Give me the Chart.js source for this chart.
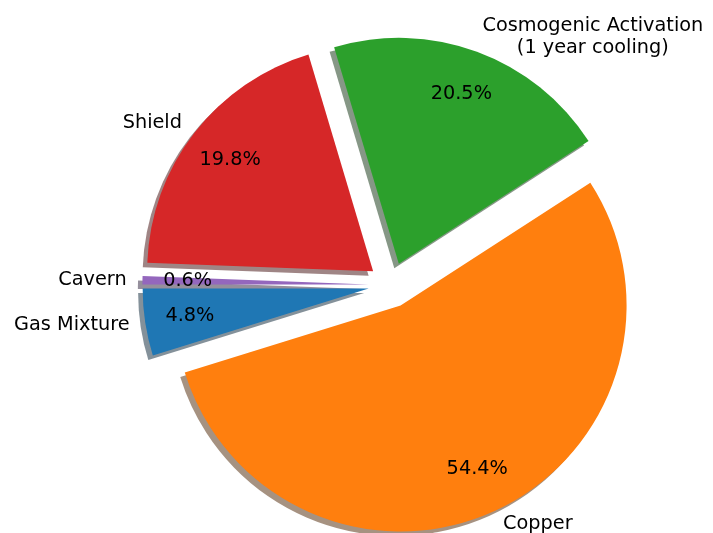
<!DOCTYPE html>
<html>
<head>
<meta charset="utf-8">
<script src="https://cdn.jsdelivr.net/npm/chart.js@4"></script>
<style>
  body { margin: 0; background: #fff; }
</style>
</head>
<body>
<canvas id="pieChart" width="713" height="533"></canvas>
<script>
// clockwise from the left, so the order matches the matplotlib pie
const labels = ['Cavern', 'Shield', 'Cosmogenic Activation\n(1 year cooling)', 'Copper', 'Gas Mixture'];
const shares = [0.6, 19.8, 20.5, 54.4, 4.8];

const colors = ['#9467bd', '#d62728', '#2ca02c', '#ff7f0e', '#1f77b4'];
const EXPLODE = 0.1;      // fraction of radius
const LABEL_DIST = 1.07;
const PCT_DIST = 0.8;
const FONT_PX = 19.3;
const FONT = FONT_PX + 'px "DejaVu Sans"';

function shadowColor(hex) {
    const n = parseInt(hex.slice(1), 16);
    const r = (n >> 16) & 255, g = (n >> 8) & 255, b = n & 255;
    return `rgba(${Math.round(r * 0.3)},${Math.round(g * 0.3)},${Math.round(b * 0.3)},0.5)`;
}

function geom(arc) {
    const p = arc.getProps(['x', 'y', 'startAngle', 'endAngle', 'outerRadius'], true);
    const mid = (p.startAngle + p.endAngle) / 2;
    const off = EXPLODE * p.outerRadius;
    return {
        ...p, mid,
        cx: p.x + Math.cos(mid) * off,
        cy: p.y + Math.sin(mid) * off
    };
}

// exploded wedges with a flat shadow, drawn from the arc elements
const explodedPie = {
    id: 'explodedPie',
    beforeDatasetDraw(chart, args) {
        const ctx = chart.ctx;
        const arcs = args.meta.data;
        const wedge = (arc, dx, dy) => {
            const g = geom(arc);
            ctx.beginPath();
            ctx.moveTo(g.cx + dx, g.cy + dy);
            ctx.arc(g.cx + dx, g.cy + dy, g.outerRadius, g.startAngle, g.endAngle);
            ctx.closePath();
            ctx.fill();
        };
        ctx.save();
        arcs.forEach((arc, i) => {
            const s = 0.02 * arc.outerRadius;
            ctx.fillStyle = shadowColor(colors[i]);
            wedge(arc, -s, s);
        });
        arcs.forEach((arc, i) => {
            ctx.fillStyle = colors[i];
            wedge(arc, 0, 0);
        });
        ctx.restore();
        return false;
    },
    afterDatasetsDraw(chart) {
        const ctx = chart.ctx;
        const arcs = chart.getDatasetMeta(0).data;
        ctx.save();
        ctx.font = FONT;
        ctx.fillStyle = '#000';
        ctx.textBaseline = 'middle';
        arcs.forEach((arc, i) => {
            const g = geom(arc);
            const cos = Math.cos(g.mid), sin = Math.sin(g.mid);

            // outer category label
            const lx = g.cx + cos * LABEL_DIST * g.outerRadius;
            const ly = g.cy + sin * LABEL_DIST * g.outerRadius;
            const lines = labels[i].split('\n');
            const lh = FONT_PX * 1.16;
            const w = Math.max(...lines.map(l => ctx.measureText(l).width));
            const blockMid = cos >= 0 ? lx + w / 2 : lx - w / 2;
            ctx.textAlign = 'center';
            lines.forEach((l, k) => {
                ctx.fillText(l, blockMid, ly + (k - (lines.length - 1) / 2) * lh);
            });

            // percentage
            const px = g.cx + cos * PCT_DIST * g.outerRadius;
            const py = g.cy + sin * PCT_DIST * g.outerRadius;
            ctx.fillText(shares[i].toFixed(1) + '%', px, py);
        });
        ctx.restore();
    }
};

const ctx = document.getElementById('pieChart').getContext('2d');
new Chart(ctx, {
    type: 'pie',
    data: {
        labels: labels,
        datasets: [{
            data: shares,
            backgroundColor: colors,
            borderWidth: 0,
            radius: 226
        }]
    },
    options: {
        responsive: false,
        animation: false,
        events: [],
        rotation: -90,
        layout: { padding: { left: 69, top: 37, right: 0, bottom: 0 } },
        plugins: {
            legend: { display: false },
            tooltip: { enabled: false }
        }
    },
    plugins: [explodedPie]
});
</script>
</body>
</html>
